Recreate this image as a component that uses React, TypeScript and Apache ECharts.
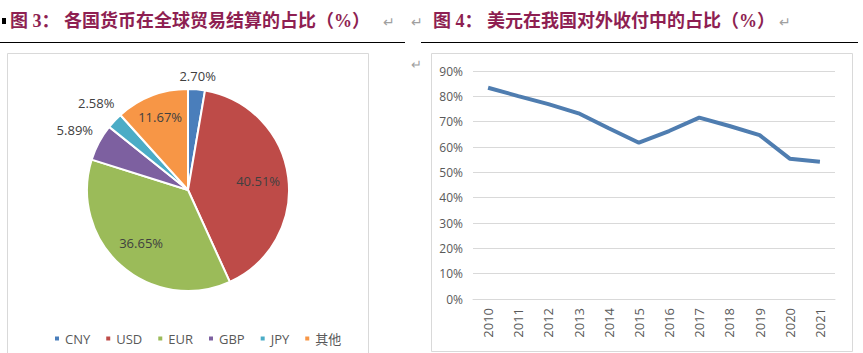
import React, { useEffect, useRef } from "react";
import * as echarts from "echarts";

const pieNames = ["CNY", "USD", "EUR", "GBP", "JPY", "其他"];
const pieValues = [2.70, 40.51, 36.65, 5.89, 2.58, 11.67];
const pieColors = ["#4A7EBB", "#BE4B48", "#9BBB59", "#7D60A0", "#4BACC6", "#F79646"];
// radial distance of each label as a fraction of the radius (style only)
const pieLabelDist = [1.13, 0.7, 0.7, 1.27, 1.25, 0.77];

const years = ["2010", "2011", "2012", "2013", "2014", "2015", "2016", "2017", "2018", "2019", "2020", "2021"];
const usdShare = [83.4, 80.1, 76.9, 73.3, 67.4, 61.7, 66.3, 71.6, 68.3, 64.7, 55.4, 54.2];
const yTicks = [0, 10, 20, 30, 40, 50, 60, 70, 80, 90];

const title1 = "图 3： 各国货币在全球贸易结算的占比（%）";
const title2 = "图 4： 美元在我国对外收付中的占比（%）";

const PIE_CX = 188;
const PIE_CY = 190;
const PIE_R = 101;

export default function App() {
  const ref = useRef<HTMLDivElement>(null);
  useEffect(() => {
    if (!ref.current) return;
    const chart = echarts.init(ref.current, undefined, { renderer: "svg" });
    const total = pieValues.reduce((a, b) => a + b, 0);
    const midAngles: number[] = [];
    let acc = 0;
    pieValues.forEach((v) => {
      midAngles.push(((acc + v / 2) / total) * Math.PI * 2);
      acc += v;
    });
    const labelFont = "'Open Sans', 'Noto Sans CJK SC', sans-serif";
    const titleFont = "'Liberation Serif', 'Noto Sans CJK SC', serif";
    chart.setOption({
      animation: false,
      graphic: [
        { type: "rect", shape: { x: 2, y: 18, width: 4, height: 6 }, style: { fill: "#000" } },
        { type: "text", x: 10, y: 21, style: { text: title1, font: `bold 18px ${titleFont}`, fill: "#8E1F52", verticalAlign: "middle" } },
        { type: "text", x: 383, y: 21, style: { text: "↵", font: `14px ${labelFont}`, fill: "#A0A0A0", verticalAlign: "middle" } },
        { type: "text", x: 411, y: 21, style: { text: "↵", font: `14px ${labelFont}`, fill: "#A0A0A0", verticalAlign: "middle" } },
        { type: "text", x: 433, y: 21, style: { text: title2, font: `bold 18px ${titleFont}`, fill: "#8E1F52", verticalAlign: "middle" } },
        { type: "text", x: 779, y: 21, style: { text: "↵", font: `14px ${labelFont}`, fill: "#A0A0A0", verticalAlign: "middle" } },
        { type: "text", x: 411, y: 64, style: { text: "↵", font: `13px ${labelFont}`, fill: "#A0A0A0", verticalAlign: "middle" } },
        { type: "line", shape: { x1: 0, y1: 42.5, x2: 405, y2: 42.5 }, style: { stroke: "#000", lineWidth: 1 } },
        { type: "line", shape: { x1: 421, y1: 42.5, x2: 858, y2: 42.5 }, style: { stroke: "#000", lineWidth: 1 } },
        { type: "rect", shape: { x: 7.5, y: 53.5, width: 361, height: 305 }, style: { fill: "none", stroke: "#D9D9D9", lineWidth: 1 } },
        { type: "rect", shape: { x: 431.5, y: 53.5, width: 421, height: 298 }, style: { fill: "none", stroke: "#D9D9D9", lineWidth: 1 } },
      ],
      legend: {
        data: pieNames,
        left: 48,
        top: 327,
        itemWidth: 6,
        itemHeight: 6,
        itemGap: 14,
        icon: "rect",
        textStyle: { fontSize: 13, color: "#595959", fontFamily: labelFont },
      },
      grid: { left: 473, right: 28, top: 71, bottom: 54 },
      xAxis: {
        type: "category",
        data: years,
        boundaryGap: true,
        axisLine: { lineStyle: { color: "#D9D9D9" } },
        axisTick: { show: false },
        axisLabel: { rotate: 90, fontSize: 13, color: "#595959", fontFamily: labelFont, margin: 9 },
      },
      yAxis: {
        type: "value",
        min: yTicks[0],
        max: yTicks[yTicks.length - 1],
        interval: 10,
        axisLine: { show: false },
        axisTick: { show: false },
        splitLine: { lineStyle: { color: "#D9D9D9" } },
        axisLabel: { formatter: "{value}%", fontSize: 12, color: "#595959", fontFamily: labelFont, margin: 10 },
      },
      series: [
        {
          type: "pie",
          center: [PIE_CX, PIE_CY],
          radius: PIE_R,
          startAngle: 90,
          clockwise: true,
          label: {
            show: true,
            position: "inside",
            formatter: (p: any) => p.value.toFixed(2) + "%",
            fontSize: 13,
            color: "#404040",
            fontFamily: labelFont,
          },
          labelLine: { show: false },
          labelLayout: (p: any) => {
            const a = midAngles[p.dataIndex];
            const d = PIE_R * pieLabelDist[p.dataIndex];
            return {
              x: PIE_CX + Math.sin(a) * d,
              y: PIE_CY - Math.cos(a) * d,
              align: "center",
              verticalAlign: "middle",
            };
          },
          itemStyle: { borderColor: "#fff", borderWidth: 2 },
          emphasis: { disabled: true },
          data: pieNames.map((n, i) => ({ name: n, value: pieValues[i], itemStyle: { color: pieColors[i] } })),
        },
        {
          type: "line",
          data: usdShare,
          symbol: "none",
          lineStyle: { color: "#4F7DB0", width: 4 },
        },
      ],
    });
    return () => chart.dispose();
  }, []);
  return <div ref={ref} style={{ position: "absolute", left: 0, top: 0, width: 863, height: 353 }} />;
}
